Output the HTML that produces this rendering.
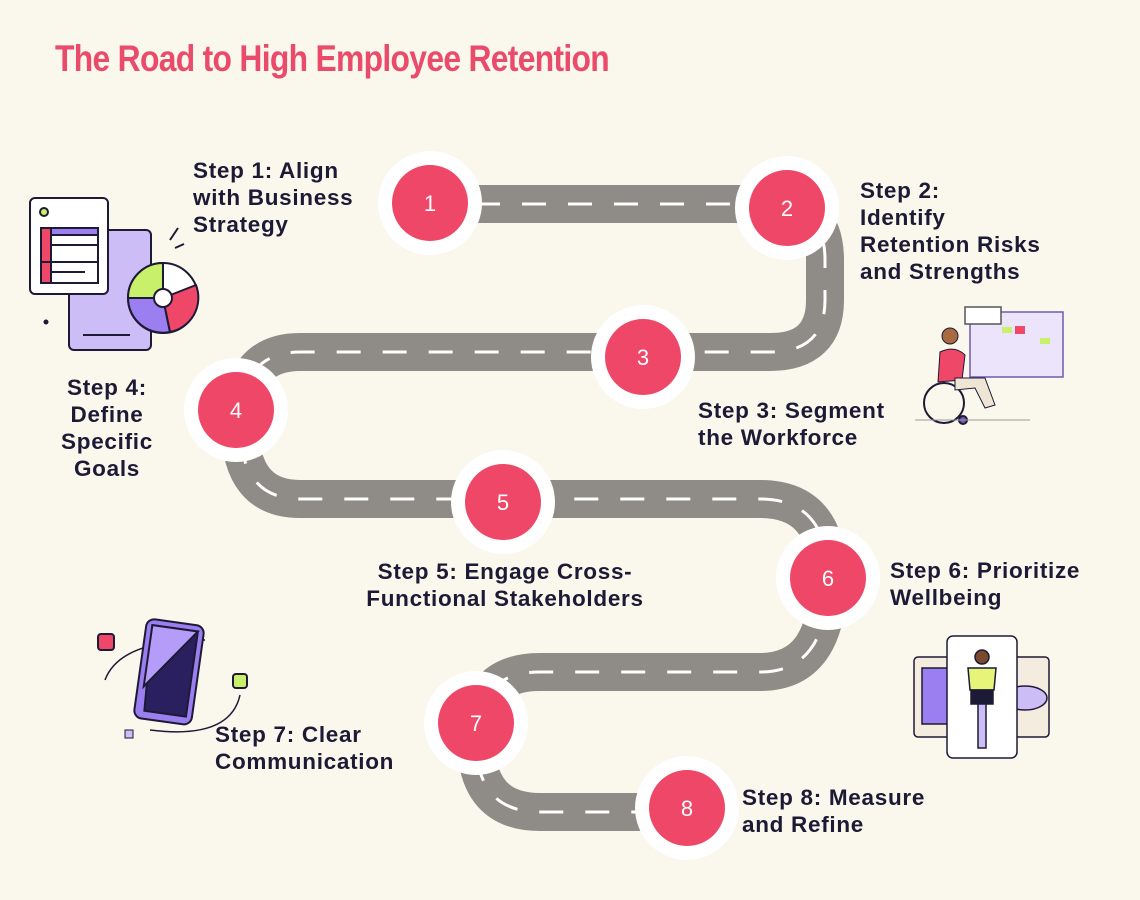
<!DOCTYPE html>
<html><head><meta charset="utf-8"><style>
html,body{margin:0;padding:0}
body{width:1140px;height:900px;background:#faf7ec;position:relative;overflow:hidden;font-family:"Liberation Sans",sans-serif}
.t{position:absolute;font-weight:bold;font-size:22.5px;line-height:27px;color:#1d1a36;letter-spacing:0.7px;white-space:nowrap}
h1{position:absolute;left:55px;top:38px;margin:0;font-size:37px;font-weight:bold;color:#ea4b6b;letter-spacing:-0.8px;transform:scaleX(0.86);transform-origin:0 0;white-space:nowrap}
svg{position:absolute;left:0;top:0}
</style></head><body>
<svg width="1140" height="900" viewBox="0 0 1140 900">
<path d="M430,204 H770 Q825,204 825,260 V300 Q825,352 770,352 H300 Q240,352 240,425 Q240,499 300,499 H760 Q828,499 828,578 Q828,672 760,672 H540 Q476,672 476,740 Q476,812 540,812 H687" fill="none" stroke="#8f8b86" stroke-width="38"/>
<path d="M430,204 H770 Q825,204 825,260 V300 Q825,352 770,352 H300 Q240,352 240,425 Q240,499 300,499 H760 Q828,499 828,578 Q828,672 760,672 H540 Q476,672 476,740 Q476,812 540,812 H687" fill="none" stroke="#fff" stroke-width="3" stroke-dasharray="24 22"/>
<g font-family="Liberation Sans, sans-serif" font-size="22" fill="#fff" text-anchor="middle">
<g><circle cx="430" cy="203" r="52" fill="#fff"/><circle cx="430" cy="203" r="38" fill="#ee4768"/><text x="430" y="211">1</text></g>
<g><circle cx="787" cy="208" r="52" fill="#fff"/><circle cx="787" cy="208" r="38" fill="#ee4768"/><text x="787" y="216">2</text></g>
<g><circle cx="643" cy="357" r="52" fill="#fff"/><circle cx="643" cy="357" r="38" fill="#ee4768"/><text x="643" y="365">3</text></g>
<g><circle cx="236" cy="410" r="52" fill="#fff"/><circle cx="236" cy="410" r="38" fill="#ee4768"/><text x="236" y="418">4</text></g>
<g><circle cx="503" cy="502" r="52" fill="#fff"/><circle cx="503" cy="502" r="38" fill="#ee4768"/><text x="503" y="510">5</text></g>
<g><circle cx="828" cy="578" r="52" fill="#fff"/><circle cx="828" cy="578" r="38" fill="#ee4768"/><text x="828" y="586">6</text></g>
<g><circle cx="476" cy="723" r="52" fill="#fff"/><circle cx="476" cy="723" r="38" fill="#ee4768"/><text x="476" y="731">7</text></g>
<g><circle cx="687" cy="808" r="52" fill="#fff"/><circle cx="687" cy="808" r="38" fill="#ee4768"/><text x="687" y="816">8</text></g>
</g>
<g stroke="#1d1a36" stroke-width="2">
<rect x="69" y="230" width="82" height="120" rx="5" fill="#cdbdf7"/>
<rect x="30" y="198" width="78" height="96" rx="5" fill="#fff"/>
<circle cx="44" cy="212" r="4" fill="#c8f06a"/>
<rect x="41" y="228" width="57" height="55" fill="#fff"/>
<rect x="41" y="228" width="10" height="55" fill="#ee4768"/>
<rect x="51" y="228" width="47" height="7" fill="#9b7ef0"/>
<line x1="51" y1="245" x2="98" y2="245"/><line x1="41" y1="262" x2="98" y2="262"/><line x1="51" y1="272" x2="85" y2="272"/>
<circle cx="163" cy="298" r="35" fill="#fff"/>
<path d="M163,298 L163,263 A35,35 0 0,0 128,298 Z" fill="#c8f06a"/>
<path d="M163,298 L128,298 A35,35 0 0,0 170,332 Z" fill="#9b7ef0"/>
<path d="M163,298 L170,332 A35,35 0 0,0 196,285 Z" fill="#ee4768"/>
<circle cx="163" cy="298" r="9" fill="#fff"/>
<line x1="170" y1="240" x2="178" y2="228"/><line x1="175" y1="248" x2="184" y2="244"/>
<line x1="83" y1="335" x2="130" y2="335"/>
</g>
<circle cx="46" cy="322" r="2.5" fill="#1d1a36"/>
<g stroke="#6e5bb0" stroke-width="1.5">
<rect x="970" y="312" width="93" height="65" fill="#ece4fb"/>
<rect x="965" y="307" width="36" height="17" fill="#fff" stroke="#555"/>
<rect x="1015" y="326" width="10" height="8" fill="#ee4768" stroke="none"/>
<rect x="1002" y="327" width="10" height="6" fill="#c8f06a" stroke="none"/>
<rect x="1040" y="338" width="10" height="6" fill="#c8f06a" stroke="none"/>
</g>
<g stroke="#1d1a36" stroke-width="2" fill="none">
<circle cx="944" cy="403" r="20"/>
<circle cx="963" cy="420" r="4" fill="#6e5bb0"/>
<line x1="915" y1="420" x2="1030" y2="420" stroke="#999" stroke-width="1"/>
</g>
<path d="M940,352 Q955,345 965,355 L962,380 L938,382 Z" fill="#ee4768" stroke="#1d1a36"/>
<circle cx="950" cy="336" r="8" fill="#a86a3e" stroke="#1d1a36"/>
<path d="M955,378 L985,378 L995,405 L985,408 L975,388 L955,390Z" fill="#eee5d5" stroke="#1d1a36"/>
<g stroke="#1d1a36" stroke-width="1.5">
<rect x="914" y="657" width="42" height="80" rx="4" fill="#f3ecdf"/>
<rect x="1007" y="657" width="42" height="80" rx="4" fill="#f3ecdf"/>
<rect x="922" y="668" width="26" height="56" fill="#9b7ef0"/>
<ellipse cx="1025" cy="698" rx="22" ry="12" fill="#cdbdf7"/>
<rect x="947" y="636" width="70" height="122" rx="6" fill="#fff"/>
<circle cx="982" cy="657" r="7" fill="#7a4a2e"/>
<path d="M968,668 L996,668 L994,690 L970,690Z" fill="#e6f57a"/>
<rect x="971" y="690" width="22" height="14" fill="#1d1a36"/>
<rect x="978" y="704" width="8" height="44" fill="#cdbdf7"/>
</g>
<g stroke="#1d1a36" stroke-width="2">
<rect x="98" y="634" width="16" height="16" rx="3" fill="#ee4768"/>
<rect x="233" y="674" width="14" height="14" rx="3" fill="#c8f06a"/>
<rect x="125" y="730" width="8" height="8" fill="#cdbdf7" stroke-width="1"/>
<path d="M105,680 Q120,640 205,640 M240,695 Q230,740 150,730" fill="none" stroke-width="1.5"/>
<g transform="rotate(8 170 672)">
<rect x="140" y="622" width="58" height="100" rx="8" fill="#9b7ef0"/>
<path d="M146,628 L192,628 L192,714 L150,714 Z" fill="#2a2060"/>
<path d="M146,628 L192,628 L146,690 Z" fill="#b59cf8"/>
</g>
</g>
</svg>
<h1>The Road to High Employee Retention</h1>
<div class="t" style="left:193px;top:157px">Step 1: Align<br>with Business<br>Strategy</div>
<div class="t" style="left:860px;top:177px">Step 2:<br>Identify<br>Retention Risks<br>and Strengths</div>
<div class="t" style="left:698px;top:397px">Step 3: Segment<br>the Workforce</div>
<div class="t" style="left:37px;top:374px;width:140px;text-align:center">Step 4:<br>Define<br>Specific<br>Goals</div>
<div class="t" style="left:330px;top:558px;width:350px;text-align:center">Step 5: Engage Cross-<br>Functional Stakeholders</div>
<div class="t" style="left:890px;top:557px">Step 6: Prioritize<br>Wellbeing</div>
<div class="t" style="left:215px;top:721px">Step 7: Clear<br>Communication</div>
<div class="t" style="left:742px;top:784px">Step 8: Measure<br>and Refine</div>
</body></html>
